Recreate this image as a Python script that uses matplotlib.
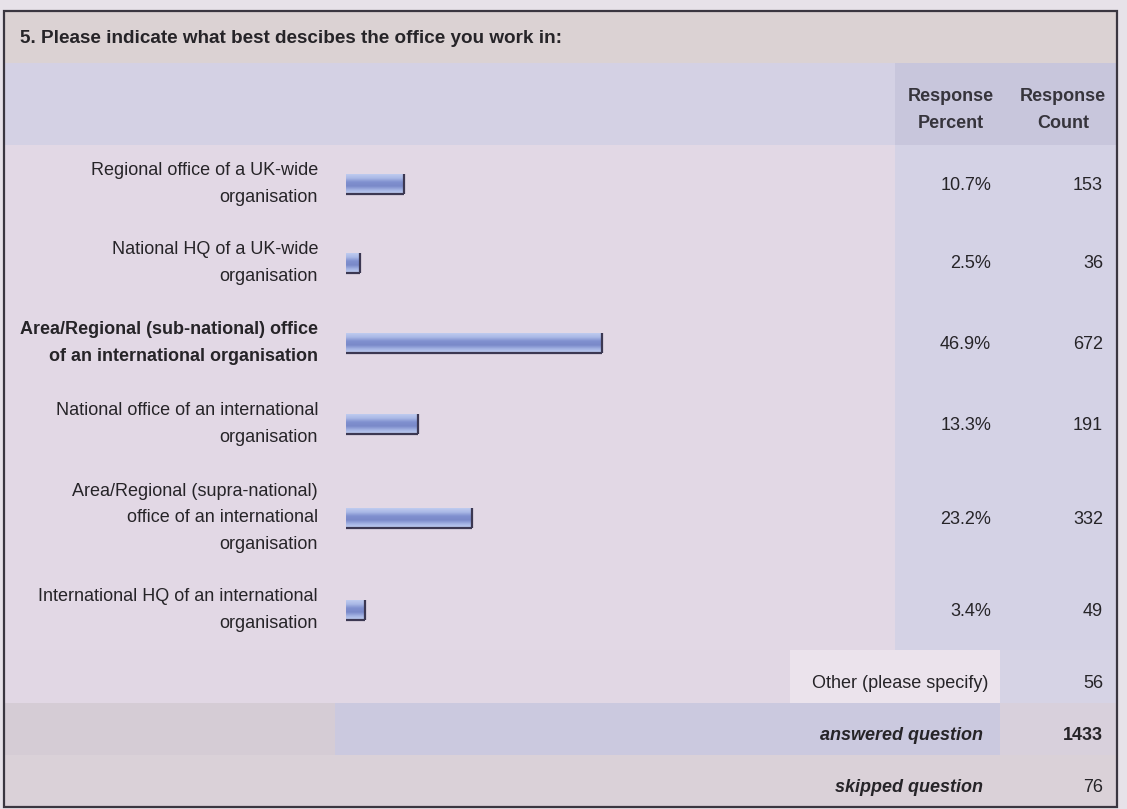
import numpy as np
import matplotlib.pyplot as plt
from matplotlib.patches import Rectangle
from matplotlib.colors import LinearSegmentedColormap

# ----------------------------
# Data
# ----------------------------
title = "5. Please indicate what best descibes the office you work in:"
categories = [
    "Regional office of a UK-wide\norganisation",
    "National HQ of a UK-wide\norganisation",
    "Area/Regional (sub-national) office\nof an international organisation",
    "National office of an international\norganisation",
    "Area/Regional (supra-national)\noffice of an international\norganisation",
    "International HQ of an international\norganisation",
]
percent = [10.7, 2.5, 46.9, 13.3, 23.2, 3.4]
counts = [153, 36, 672, 191, 332, 49]
other_count = 56
answered = 1433
skipped = 76

# ----------------------------
# Layout (pixel coordinates of the table)
# ----------------------------
W, H = 1127, 809
row_y = [184, 263, 343, 424, 518, 610]
bar_h = 20
txt = "#262428"
plt.rcParams["font.family"] = ["Liberation Sans", "DejaVu Sans"]
FS = 13
LS = 1.72

fig = plt.figure(figsize=(W / 100, H / 100), dpi=100)
fig.patch.set_facecolor("#e7e2e9")
ax = fig.add_axes([0, 0, 1, 1])
ax.set_xlim(0, W)
ax.set_ylim(H, 0)
ax.axis("off")


def box(x0, y0, x1, y1, color):
    ax.add_patch(Rectangle((x0, y0), x1 - x0, y1 - y0, facecolor=color,
                           edgecolor="none", zorder=0))


L, R, T, B = 4, 1117, 11, 807
box(L, T, R, 63, "#dbd2d3")          # title band
box(L, 63, R, 145, "#d4d1e4")        # header band
box(895, 63, R, 145, "#c8c6dc")      # header right
box(L, 145, 895, 650, "#e2d8e5")     # rows
box(895, 145, R, 650, "#d4d2e5")     # value columns
box(L, 650, R, 703, "#e1d7e4")       # other row
box(790, 650, 1000, 703, "#ebe3ec")
box(1000, 650, R, 703, "#d6d3e5")
box(L, 703, 335, 755, "#d5ccd5")     # answered row
box(335, 703, 1000, 755, "#cbc9df")
box(1000, 703, R, 755, "#d8d0dc")
box(L, 755, R, B, "#dad1d8")         # skipped row
ax.add_patch(Rectangle((L, T), R - L, B - T, facecolor="none",
                       edgecolor="#3a3640", lw=1.6, zorder=5))

# ----------------------------
# Texts
# ----------------------------
ax.text(20, 38, title, fontsize=13.6, fontweight="bold", color=txt, va="center")
ax.text(951, 110, "Response\nPercent", fontsize=FS, fontweight="bold", color="#36343c",
        ha="center", va="center", linespacing=LS)
ax.text(1063, 110, "Response\nCount", fontsize=FS, fontweight="bold", color="#36343c",
        ha="center", va="center", linespacing=LS)

top = int(np.argmax(percent))
for i, (lab, p, c) in enumerate(zip(categories, percent, counts)):
    y = row_y[i]
    ax.text(318, y, lab, fontsize=FS, ha="right", va="center", color=txt,
            linespacing=LS, fontweight="bold" if i == top else "normal")
    ax.text(991, y + 1, f"{p}%", fontsize=FS, ha="right", va="center", color=txt)
    ax.text(1103, y + 1, f"{c}", fontsize=FS, ha="right", va="center", color=txt)

ax.text(988, 683, "Other (please specify)", fontsize=FS, ha="right", va="center", color=txt)
ax.text(1103, 683, f"{other_count}", fontsize=FS, ha="right", va="center", color=txt)
ax.text(983, 735, "answered question", fontsize=FS, ha="right", va="center", color=txt,
        fontweight="bold", fontstyle="italic")
ax.text(1103, 735, f"{answered}", fontsize=FS, ha="right", va="center", color=txt,
        fontweight="bold")
ax.text(983, 787, "skipped question", fontsize=FS, ha="right", va="center", color=txt,
        fontweight="bold", fontstyle="italic")
ax.text(1103, 787, f"{skipped}", fontsize=FS, ha="right", va="center", color=txt)

# ----------------------------
# Bars (0..100% spans x 346..891)
# ----------------------------
bax = fig.add_axes([346 / W, 0, (891 - 346) / W, 1])
bax.set_xlim(0, 100)
bax.set_ylim(H, 0)
bax.axis("off")
bax.patch.set_alpha(0)

cmap = LinearSegmentedColormap.from_list(
    "bar", ["#bfcbef", "#a9b8e6", "#8090cf", "#7a89c9", "#a3b3e3", "#c4d1f2"])
grad = np.linspace(0, 1, 64).reshape(-1, 1)
bars = bax.barh(row_y, percent, height=bar_h, color="#a9b8e6", edgecolor="none")
for b, p, y in zip(bars, percent, row_y):
    im = bax.imshow(grad, cmap=cmap, aspect="auto", origin="upper",
                    extent=(0, p, y + bar_h / 2, y - bar_h / 2), zorder=2)
    im.set_clip_path(b)
    bax.hlines(y + bar_h / 2, 0, p, color="#3c3852", lw=1.6, zorder=3)
    bax.vlines(p, y - bar_h / 2, y + bar_h / 2, color="#3c3852", lw=1.6, zorder=3)
bax.set_xlim(0, 100)
bax.set_ylim(H, 0)

fig.savefig("out.png", dpi=100)
